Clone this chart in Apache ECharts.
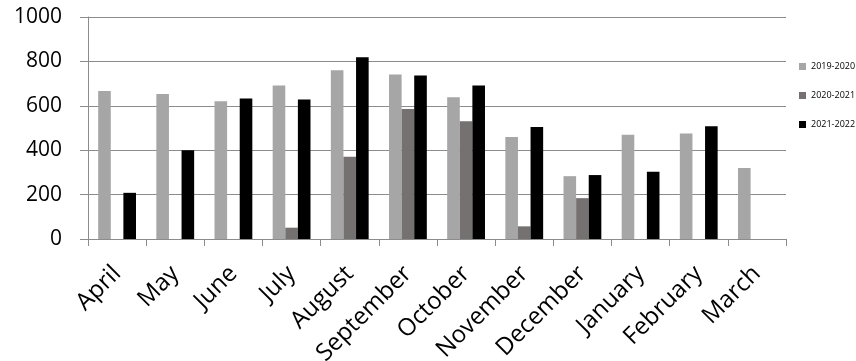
<!DOCTYPE html>
<html>
<head>
<meta charset="utf-8">
<script src="https://cdn.jsdelivr.net/npm/echarts@6/dist/echarts.min.js"></script>
<style>
  html, body { margin: 0; padding: 0; background: #ffffff; }
  #chart { width: 856px; height: 361px; }
</style>
</head>
<body>
<div id="chart"></div>
<script>
// Monthly figures for three financial years (April to March)
const months = ['April', 'May', 'June', 'July', 'August', 'September', 'October', 'November', 'December', 'January', 'February', 'March'];
const seriesNames = ['2019-2020', '2020-2021', '2021-2022'];
const values2019 = [667, 653, 620, 692, 760, 741, 638, 460, 283, 470, 475, 320];
const values2020 = [null, null, null, 51, 370, 586, 530, 57, 184, null, null, null];
const values2021 = [208, 400, 633, 628, 819, 737, 692, 505, 288, 303, 508, null];
const yTicks = { min: 0, max: 1000, step: 200 };

const colors = ['#a6a6a6', '#767171', '#000000'];
const font = '"Open Sans", Lato, sans-serif';
const lineColor = '#8c8c8c';

const chart = echarts.init(document.getElementById('chart'), null, { renderer: 'canvas' });

const seriesData = [values2019, values2020, values2021];

chart.setOption({
  animation: false,
  backgroundColor: '#ffffff',
  color: colors,
  grid: { left: 88, top: 17, right: 70, bottom: 122, containLabel: false, outerBoundsMode: 'none' },
  legend: {
    orient: 'vertical',
    left: 799,
    top: 62,
    padding: 0,
    itemWidth: 7,
    itemHeight: 7,
    itemGap: 20,
    icon: 'rect',
    textStyle: { fontFamily: font, fontSize: 9, color: '#000000' },
    data: seriesNames
  },
  xAxis: {
    type: 'category',
    data: months,
    axisLine: { show: true, lineStyle: { color: lineColor, width: 1 } },
    axisTick: { show: true, length: 7, alignWithLabel: false, lineStyle: { color: lineColor } },
    axisLabel: {
      interval: 0,
      rotate: 45,
      margin: 31,
      fontFamily: font,
      fontSize: 24,
      color: '#000000'
    },
    splitLine: { show: false }
  },
  yAxis: {
    type: 'value',
    min: yTicks.min,
    max: yTicks.max,
    interval: yTicks.step,
    axisLine: { show: true, lineStyle: { color: lineColor, width: 1 } },
    axisTick: { show: true, length: 8, lineStyle: { color: lineColor } },
    axisLabel: {
      margin: 26,
      fontFamily: font,
      fontSize: 21,
      color: '#000000',
      formatter: (v) => String(v)
    },
    splitLine: { show: true, lineStyle: { color: lineColor, width: 1 } }
  },
  series: seriesNames.map((name, i) => ({
    name: name,
    type: 'bar',
    data: seriesData[i],
    barGap: '0%',
    barCategoryGap: '35%',
    itemStyle: { color: colors[i] }
  }))
});
</script>
</body>
</html>
